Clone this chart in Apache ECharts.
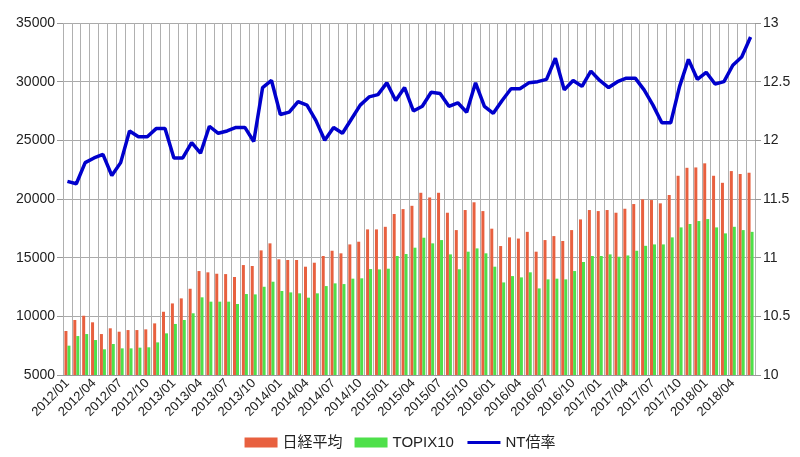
<!DOCTYPE html>
<html>
<head>
<meta charset="utf-8">
<script src="https://cdn.jsdelivr.net/npm/echarts@6/dist/echarts.min.js"></script>
<style>
  html, body { margin: 0; padding: 0; background: #fff; }
  #chart { width: 800px; height: 457px; }
</style>
</head>
<body>
<div id="chart"></div>
<script>
// 月次カテゴリ 2012/01 - 2018/06
const months = [];
for (let y = 2012; y <= 2018; y++) {
  for (let m = 1; m <= 12; m++) {
    if (y === 2018 && m > 6) break;
    months.push(y + '/' + (m < 10 ? '0' + m : m));
  }
}

// 日経平均（月末）
const nikkei = [
  8750, 9690, 10050, 9490, 8490, 8980, 8690, 8830, 8830, 8890, 9400, 10390,
  11100, 11530, 12350, 13860, 13750, 13630, 13600, 13350, 14370, 14290, 15620, 16220,
  14860, 14800, 14800, 14230, 14570, 15140, 15590, 15370, 16130, 16360, 17410, 17410,
  17630, 18720, 19140, 19420, 20530, 20130, 20530, 18830, 17350, 19060, 19720, 18970,
  17470, 15990, 16730, 16630, 17200, 15510, 16500, 16840, 16420, 17350, 18260, 19060,
  18970, 19060, 18830, 19170, 19570, 19970, 19910, 19630, 20340, 21980, 22660, 22690,
  23040, 21980, 21380, 22380, 22130, 22240
];

// TOPIX x10
const topix10 = [
  7500, 8320, 8490, 7980, 7190, 7640, 7270, 7270, 7330, 7360, 7780, 8550,
  9350, 9690, 10260, 11620, 11250, 11250, 11250, 11050, 11900, 11870, 12520, 12950,
  12160, 12040, 11960, 11590, 11960, 12580, 12810, 12750, 13210, 13240, 14030, 14000,
  14060, 15140, 15310, 15850, 16700, 16220, 16500, 15280, 14010, 15510, 15790, 15370,
  14230, 12890, 13430, 13320, 13750, 12380, 13150, 13210, 13150, 13860, 14630, 15140,
  15140, 15280, 15080, 15190, 15590, 16010, 16130, 16130, 16730, 17580, 17870, 18120,
  18290, 17580, 17070, 17630, 17350, 17200
];

// NT倍率
const ntRatio = [
  11.65, 11.63, 11.81, 11.85, 11.88, 11.70, 11.81, 12.08, 12.03, 12.03, 12.10, 12.10,
  11.85, 11.85, 11.98, 11.89, 12.12, 12.06, 12.08, 12.11, 12.11, 11.99, 12.45, 12.51,
  12.22, 12.24, 12.33, 12.30, 12.17, 12.00, 12.11, 12.06, 12.18, 12.30, 12.37, 12.39,
  12.49, 12.34, 12.45, 12.25, 12.29, 12.41, 12.40, 12.29, 12.32, 12.24, 12.49, 12.29,
  12.23, 12.34, 12.44, 12.44, 12.49, 12.50, 12.52, 12.70, 12.43, 12.51, 12.46, 12.59,
  12.51, 12.45, 12.50, 12.53, 12.53, 12.43, 12.30, 12.15, 12.15, 12.46, 12.69, 12.52,
  12.58, 12.48, 12.50, 12.64, 12.71, 12.88
];

const chart = echarts.init(document.getElementById('chart'));
const font = "'Liberation Sans', 'Noto Sans CJK JP', sans-serif";

const option = {
  backgroundColor: '#ffffff',
  animation: false,
  textStyle: { fontFamily: font },
  grid: { left: 63, right: 45, top: 23, bottom: 82 },
  legend: {
    bottom: 2,
    left: 'center',
    itemWidth: 33,
    itemHeight: 10,
    itemGap: 12,
    textStyle: { fontSize: 15, color: '#222', fontFamily: font },
    data: [
      { name: '日経平均', icon: 'rect' },
      { name: 'TOPIX10', icon: 'rect' },
      { name: 'NT倍率', itemStyle: { opacity: 0 }, lineStyle: { width: 3 } }
    ]
  },
  xAxis: {
    type: 'category',
    data: months,
    boundaryGap: true,
    axisLine: { lineStyle: { color: '#999' } },
    axisTick: { show: false },
    splitLine: { show: true, interval: 0, lineStyle: { color: '#b0b0b0', width: 1 } },
    axisLabel: { interval: 2, rotate: 45, fontSize: 13, color: '#222', margin: 6 }
  },
  yAxis: [
    {
      type: 'value', min: 5000, max: 35000, interval: 5000,
      axisLine: { show: false },
      axisTick: { show: true, length: 6, lineStyle: { color: '#999' } },
      splitLine: { lineStyle: { color: '#aaaaaa' } },
      axisLabel: { fontSize: 14, color: '#222', margin: 8, formatter: v => String(v) }
    },
    {
      type: 'value', min: 10, max: 13, interval: 0.5,
      axisLine: { show: false },
      axisTick: { show: true, length: 6, lineStyle: { color: '#999' } },
      splitLine: { show: false },
      axisLabel: { fontSize: 14, color: '#222', margin: 8 }
    }
  ],
  series: [
    {
      name: '日経平均', type: 'bar', data: nikkei,
      barWidth: 3, barGap: '0%',
      itemStyle: { color: '#e8603f' }
    },
    {
      name: 'TOPIX10', type: 'bar', data: topix10,
      barWidth: 3, barGap: '0%',
      itemStyle: { color: '#4ee04a' }
    },
    {
      name: 'NT倍率', type: 'line', yAxisIndex: 1, data: ntRatio,
      symbol: 'none',
      lineStyle: { color: '#0000cc', width: 3.5 },
      itemStyle: { color: '#0000cc' },
      z: 5
    }
  ]
};

chart.setOption(option);
window.onresize = function () { chart.resize(); };
</script>
</body>
</html>
